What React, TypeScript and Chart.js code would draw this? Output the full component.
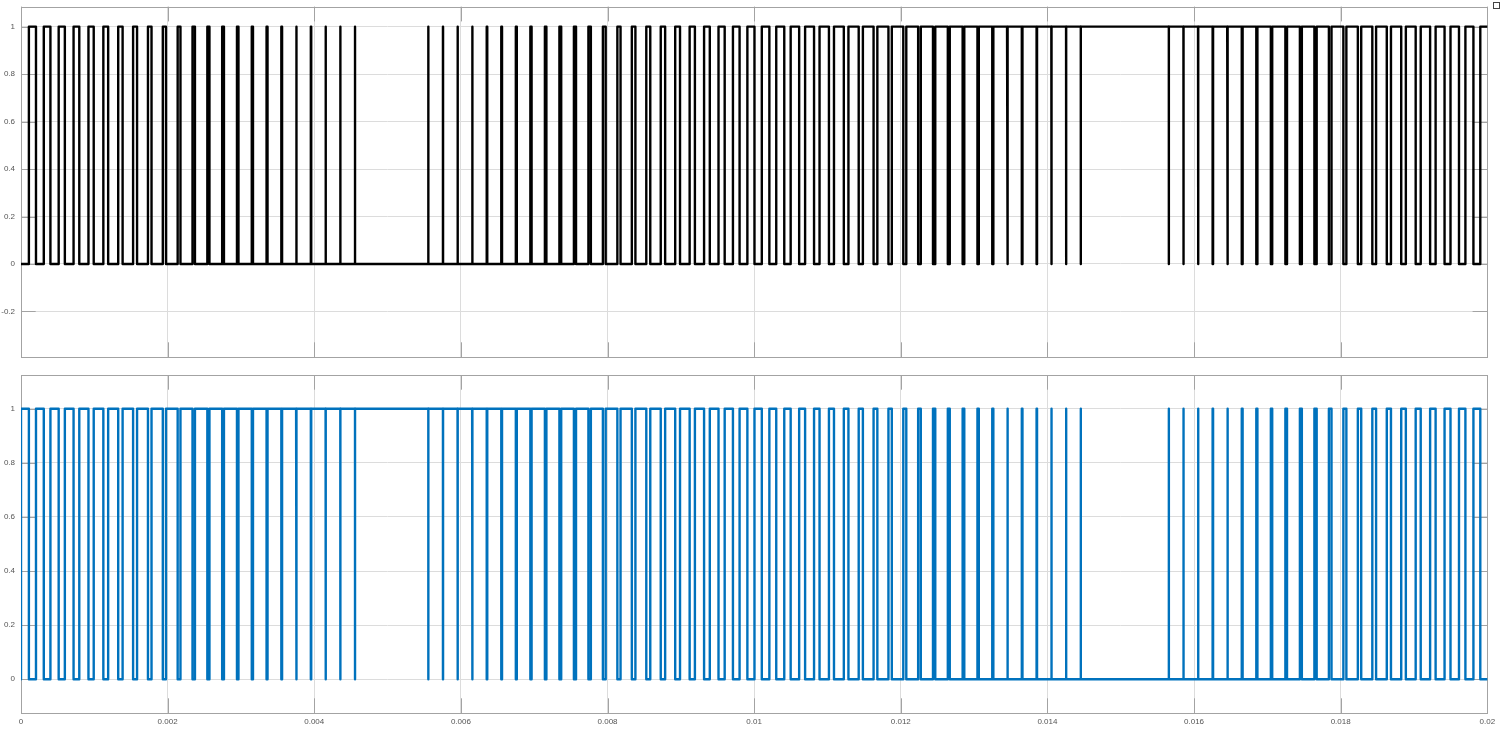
import React, { useEffect, useRef } from 'react';
import { Chart, registerables } from 'chart.js';

Chart.register(...registerables);

// ---- data ----
const PERIOD = 0.0002; // carrier period, s
const PULSE_PHASE = 0.78; // pulse centre position inside each carrier period (fraction)
const T_END = 0.02;

// duty (fraction of period that the upper signal is high) for each of the 100 carrier periods
const dutyTop = [
  0.484, 0.453, 0.421, 0.39, 0.359, 0.329, 0.3, 0.271, 0.243, 0.217,
  0.191, 0.167, 0.144, 0.122, 0.102, 0.083, 0.066, 0.051, 0.037, 0.026,
  0.016, 0.008, 0.003, 0, 0, 0, 0, 0.003, 0.008, 0.016,
  0.026, 0.037, 0.051, 0.066, 0.083, 0.102, 0.122, 0.144, 0.167, 0.191,
  0.217, 0.243, 0.271, 0.3, 0.329, 0.359, 0.39, 0.421, 0.453, 0.484,
  0.516, 0.547, 0.579, 0.61, 0.641, 0.671, 0.7, 0.729, 0.757, 0.783,
  0.809, 0.833, 0.856, 0.878, 0.898, 0.917, 0.934, 0.949, 0.963, 0.974,
  0.984, 0.992, 1, 1, 1, 1, 1, 1, 0.992, 0.984,
  0.974, 0.963, 0.949, 0.934, 0.917, 0.898, 0.878, 0.856, 0.833, 0.809,
  0.783, 0.757, 0.729, 0.7, 0.671, 0.641, 0.61, 0.579, 0.547, 0.516,
];

const xTicks = [0, 0.002, 0.004, 0.006, 0.008, 0.01, 0.012, 0.014, 0.016, 0.018, 0.02];
const xTickLabels = ['0', '0.002', '0.004', '0.006', '0.008', '0.01', '0.012', '0.014', '0.016', '0.018', '0.02'];
const yTicksTop = [-0.2, 0, 0.2, 0.4, 0.6, 0.8, 1];
const yTickLabelsTop = ['-0.2', '0', '0.2', '0.4', '0.6', '0.8', '1'];
const yTicksBottom = [0, 0.2, 0.4, 0.6, 0.8, 1];
const yTickLabelsBottom = ['0', '0.2', '0.4', '0.6', '0.8', '1'];
const yRangeTop = [-0.392, 1.084];
const yRangeBottom = [-0.125, 1.125];

// ---- helpers ----
function highIntervals(duty: number[]) {
  const iv: number[][] = [];
  duty.forEach((d, k) => {
    if (d <= 0) return;
    const c = (k + PULSE_PHASE) * PERIOD;
    const h = (d * PERIOD) / 2;
    iv.push([c - h, c + h]);
  });
  const merged: number[][] = [];
  for (const [s, e] of iv) {
    const last = merged[merged.length - 1];
    if (last && s <= last[1] + 1e-12) last[1] = Math.max(last[1], e);
    else merged.push([s, e]);
  }
  return merged;
}

function stepPoints(iv: number[][], invert: boolean, startLevel: number) {
  const hi = invert ? 0 : 1;
  const lo = invert ? 1 : 0;
  const pts: { x: number; y: number }[] = [{ x: 0, y: startLevel }];
  if (startLevel !== lo) pts.push({ x: 0, y: lo });
  let lastE = 0;
  for (const [s, e] of iv) {
    pts.push({ x: s, y: lo }, { x: s, y: hi }, { x: e, y: hi }, { x: e, y: lo });
    lastE = e;
  }
  pts.push({ x: Math.max(T_END, lastE), y: lo });
  return pts;
}

const boxPlugin = {
  id: 'matlabBox',
  beforeDatasetsDraw(chart: any, _args: any, opts: any) {
    const { ctx, chartArea: a, scales } = chart;
    const L = 14.7;
    ctx.save();
    ctx.strokeStyle = '#a3a3a3';
    ctx.lineWidth = 1;
    ctx.beginPath();
    for (const v of opts.yTicks || []) {
      const y = Math.round(scales.y.getPixelForValue(v)) + 0.5;
      ctx.moveTo(a.left, y);
      ctx.lineTo(a.left + L, y);
      ctx.moveTo(a.right, y);
      ctx.lineTo(a.right - L, y);
    }
    for (const v of opts.xTicks || []) {
      const x = Math.round(scales.x.getPixelForValue(v)) + 0.5;
      ctx.moveTo(x, a.bottom);
      ctx.lineTo(x, a.bottom - L);
      ctx.moveTo(x, a.top);
      ctx.lineTo(x, a.top + L);
    }
    ctx.stroke();
    ctx.strokeRect(Math.round(a.left) + 0.5, Math.round(a.top) + 0.5, Math.round(a.right - a.left), Math.round(a.bottom - a.top));
    ctx.restore();
  },
};

const FONT = { family: '"Liberation Sans", Arial, Helvetica, sans-serif', size: 8 };
const TICK_COLOR = '#555555';
const GRID_COLOR = '#dcdcdc';

function makeConfig(opts: {
  data: { x: number; y: number }[];
  color: string;
  yRange: number[];
  yTicks: number[];
  yLabels: string[];
  showX: boolean;
  padding: any;
  xHeight: number;
}): any {
  return {
    type: 'line',
    data: {
      datasets: [
        {
          data: opts.data,
          borderColor: opts.color,
          borderWidth: 2.4,
          pointRadius: 0,
          tension: 0,
          fill: false,
          borderJoinStyle: 'round',
          borderCapStyle: 'round',
        },
      ],
    },
    options: {
      responsive: false,
      animation: false,
      events: [],
      layout: { padding: opts.padding },
      plugins: {
        legend: { display: false },
        tooltip: { enabled: false },
        matlabBox: { xTicks, yTicks: opts.yTicks },
      },
      scales: {
        x: {
          type: 'linear',
          min: 0,
          max: T_END,
          afterBuildTicks: (s: any) => {
            s.ticks = xTicks.map((v) => ({ value: v }));
          },
          afterFit: (s: any) => {
            s.height = opts.xHeight;
            s.paddingLeft = 0;
            s.paddingRight = 0;
            s.paddingTop = 0;
            s.paddingBottom = 0;
          },
          ticks: {
            display: opts.showX,
            autoSkip: false,
            maxRotation: 0,
            padding: 4,
            color: TICK_COLOR,
            font: FONT,
            callback: (_v: any, i: number) => xTickLabels[i],
          },
          grid: { color: GRID_COLOR, drawTicks: false, lineWidth: 1 },
          border: { display: false },
        },
        y: {
          type: 'linear',
          min: opts.yRange[0],
          max: opts.yRange[1],
          afterBuildTicks: (s: any) => {
            s.ticks = opts.yTicks.map((v) => ({ value: v }));
          },
          afterFit: (s: any) => {
            s.width = 21;
            s.paddingTop = 0;
            s.paddingBottom = 0;
            s.paddingLeft = 0;
            s.paddingRight = 0;
          },
          ticks: {
            autoSkip: false,
            padding: 6,
            color: TICK_COLOR,
            font: FONT,
            callback: (_v: any, i: number) => opts.yLabels[i],
          },
          grid: { color: GRID_COLOR, drawTicks: false, lineWidth: 1 },
          border: { display: false },
        },
      },
    },
    plugins: [boxPlugin],
  };
}

export default function App() {
  const topRef = useRef<HTMLCanvasElement>(null);
  const botRef = useRef<HTMLCanvasElement>(null);

  useEffect(() => {
    const iv = highIntervals(dutyTop);
    const topData = stepPoints(iv, false, 0);
    const botData = stepPoints(iv, true, 0);
    const c1 = new Chart(
      topRef.current as HTMLCanvasElement,
      makeConfig({
        data: topData,
        color: '#000000',
        yRange: yRangeTop,
        yTicks: yTicksTop,
        yLabels: yTickLabelsTop,
        showX: false,
        padding: { left: 0, right: 12.7, top: 6.7, bottom: 3 },
        xHeight: 0,
      })
    );
    const c2 = new Chart(
      botRef.current as HTMLCanvasElement,
      makeConfig({
        data: botData,
        color: '#0072BD',
        yRange: yRangeBottom,
        yTicks: yTicksBottom,
        yLabels: yTickLabelsBottom,
        showX: true,
        padding: { left: 0, right: 12.7, top: 10, bottom: 0 },
        xHeight: 18,
      })
    );
    return () => {
      c1.destroy();
      c2.destroy();
    };
  }, []);

  return (
    <div style={{ position: 'absolute', left: 0, top: 0, width: 1500, height: 731, background: '#ffffff', overflow: 'hidden' }}>
      <canvas ref={topRef} width={1500} height={360} style={{ position: 'absolute', left: 0, top: 0, display: 'block' }} />
      <canvas ref={botRef} width={1500} height={366} style={{ position: 'absolute', left: 0, top: 365, display: 'block' }} />
      <div
        style={{
          position: 'absolute',
          left: 1493,
          top: 2,
          width: 5,
          height: 5,
          border: '1px solid #444',
          boxSizing: 'content-box',
        }}
      />
    </div>
  );
}
